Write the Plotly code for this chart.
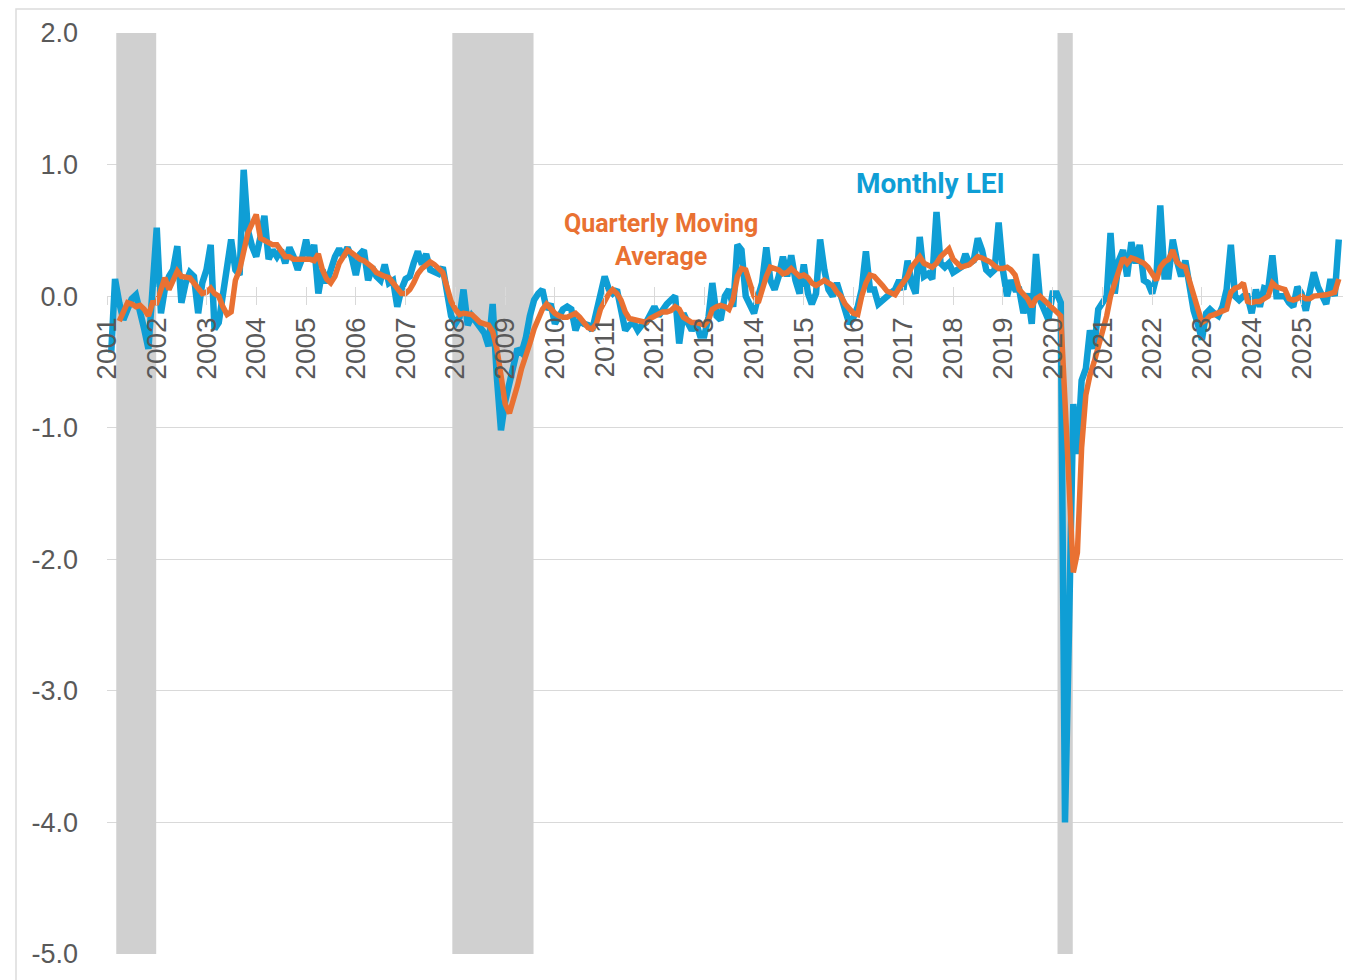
import pandas as pd
import plotly.graph_objects as go

# Monthly LEI change (%), Feb 2001 .. Oct 2025
lei_monthly = [
    -0.43, 0.13, -0.05, -0.18, -0.10, -0.02, 0.01, -0.10, -0.25, -0.40, 0.00,           # 2001 (Feb-Dec)
    0.52, -0.13, 0.05, 0.15, 0.20, 0.38, -0.05, 0.10, 0.18, 0.15, -0.13, 0.10,          # 2002
    0.20, 0.39, -0.25, -0.20, 0.00, 0.15, 0.43, 0.20, 0.16, 0.96, 0.50, 0.38,           # 2003
    0.30, 0.45, 0.61, 0.28, 0.35, 0.30, 0.35, 0.25, 0.37, 0.30, 0.20, 0.28,             # 2004
    0.43, 0.27, 0.39, 0.02, 0.20, 0.10, 0.22, 0.30, 0.36, 0.30, 0.37, 0.30,             # 2005
    0.16, 0.32, 0.35, 0.12, 0.22, 0.15, 0.12, 0.24, 0.10, 0.12, -0.08, 0.05,            # 2006
    0.13, 0.15, 0.25, 0.34, 0.24, 0.32, 0.20, 0.18, 0.17, 0.22, 0.00, -0.15,            # 2007
    -0.21, -0.16, 0.05, -0.22, -0.15, -0.20, -0.24, -0.28, -0.38, -0.06, -0.62, -1.02,  # 2008
    -0.80, -0.66, -0.54, -0.40, -0.43, -0.32, -0.15, -0.03, 0.02, 0.05, -0.10, -0.06,   # 2009
    -0.21, -0.15, -0.10, -0.08, -0.10, -0.26, -0.18, -0.21, -0.22, -0.26, -0.13, 0.00,  # 2010
    0.15, 0.05, 0.02, 0.05, -0.10, -0.26, -0.22, -0.20, -0.26, -0.22, -0.20, -0.13,     # 2011
    -0.08, -0.15, -0.10, -0.06, -0.03, 0.00, -0.36, -0.13, -0.20, -0.26, -0.20, -0.30,  # 2012
    -0.30, -0.16, 0.10, -0.15, -0.18, 0.00, 0.05, -0.08, 0.39, 0.35, 0.00, -0.06,       # 2013
    -0.13, 0.00, 0.10, 0.37, 0.12, 0.05, 0.15, 0.30, 0.15, 0.31, 0.12, 0.02,            # 2014
    0.24, 0.02, -0.06, 0.02, 0.43, 0.20, 0.05, 0.00, 0.10, 0.00, -0.10, -0.21,          # 2015
    -0.16, -0.08, 0.05, 0.34, 0.05, 0.05, -0.06, -0.03, 0.00, 0.02, 0.05, 0.12,         # 2016
    0.05, 0.27, 0.10, 0.02, 0.45, 0.15, 0.17, 0.13, 0.64, 0.25, 0.22, 0.25,             # 2017
    0.18, 0.20, 0.22, 0.32, 0.25, 0.27, 0.44, 0.35, 0.20, 0.17, 0.20, 0.56,             # 2018
    0.20, 0.00, 0.12, 0.05, 0.05, -0.13, 0.02, -0.21, 0.32, -0.03, -0.10, -0.18,        # 2019
    0.02, 0.02, -0.05, -4.00, -2.50, -0.82, -1.20, -0.64, -0.55, -0.26, -0.40, -0.10,   # 2020
    -0.05, 0.00, 0.48, 0.02, 0.27, 0.35, 0.15, 0.41, 0.25, 0.39, 0.12, 0.10,            # 2021
    0.02, 0.15, 0.69, 0.15, 0.15, 0.43, 0.27, 0.15, 0.27, 0.05, -0.11, -0.21,           # 2022
    -0.33, -0.13, -0.10, -0.13, -0.15, -0.08, 0.05, 0.39, 0.00, -0.03, 0.00, 0.00,      # 2023
    -0.13, 0.05, -0.08, 0.06, 0.05, 0.31, 0.00, 0.00, 0.00, -0.05, -0.08, 0.07,         # 2024
    0.02, -0.11, 0.05, 0.18, 0.07, 0.00, -0.06, 0.13, 0.00, 0.43,                       # 2025 (Jan-Oct)
]

# Quarterly (3-month) moving average, same months
lei_quarterly_ma = [
    None, None, -0.19, -0.12, -0.05, -0.06, -0.08, -0.07, -0.10, -0.15, -0.05,          # 2001
    -0.05, 0.05, 0.14, 0.05, 0.12, 0.19, 0.15, 0.14, 0.14, 0.10, 0.05, 0.02,            # 2002
    0.03, 0.06, 0.02, 0.00, -0.08, -0.14, -0.12, 0.12, 0.20, 0.35, 0.48, 0.55,          # 2003
    0.62, 0.44, 0.42, 0.40, 0.39, 0.39, 0.35, 0.30, 0.30, 0.28, 0.28, 0.28,             # 2004
    0.29, 0.28, 0.27, 0.32, 0.20, 0.13, 0.10, 0.15, 0.25, 0.30, 0.35, 0.33,             # 2005
    0.30, 0.28, 0.27, 0.25, 0.22, 0.18, 0.16, 0.15, 0.14, 0.10, 0.07, 0.02,             # 2006
    0.02, 0.05, 0.10, 0.17, 0.21, 0.23, 0.26, 0.24, 0.21, 0.18, 0.07, -0.04,            # 2007
    -0.10, -0.14, -0.13, -0.13, -0.14, -0.17, -0.20, -0.21, -0.22, -0.27, -0.40, -0.60, # 2008
    -0.82, -0.89, -0.80, -0.68, -0.55, -0.46, -0.36, -0.25, -0.17, -0.10, -0.06, -0.10, # 2009
    -0.13, -0.15, -0.16, -0.16, -0.15, -0.13, -0.16, -0.20, -0.24, -0.25, -0.21, -0.10, # 2010
    -0.03, 0.02, 0.05, 0.02, -0.03, -0.12, -0.17, -0.18, -0.19, -0.20, -0.20, -0.17,    # 2011
    -0.15, -0.13, -0.12, -0.12, -0.11, -0.08, -0.10, -0.16, -0.18, -0.20, -0.20, -0.21, # 2012
    -0.22, -0.18, -0.10, -0.08, -0.07, -0.08, -0.10, -0.02, 0.15, 0.21, 0.20, 0.10,     # 2013
    0.00, -0.05, 0.05, 0.15, 0.22, 0.21, 0.20, 0.17, 0.18, 0.21, 0.18, 0.15,            # 2014
    0.16, 0.14, 0.10, 0.08, 0.10, 0.12, 0.10, 0.08, 0.03, 0.00, -0.06, -0.10,           # 2015
    -0.13, -0.14, 0.00, 0.10, 0.16, 0.15, 0.12, 0.08, 0.04, 0.02, 0.01, 0.06,           # 2016
    0.10, 0.15, 0.22, 0.27, 0.30, 0.25, 0.23, 0.22, 0.25, 0.30, 0.33, 0.36,             # 2017
    0.28, 0.24, 0.22, 0.23, 0.24, 0.27, 0.30, 0.29, 0.28, 0.26, 0.23, 0.21,             # 2018
    0.21, 0.22, 0.20, 0.16, 0.05, 0.02, -0.02, -0.08, -0.02, 0.00, -0.03, -0.05,        # 2019
    -0.08, -0.12, -0.15, -0.80, -1.45, -2.10, -1.95, -1.15, -0.75, -0.60, -0.50, -0.38, # 2020
    -0.28, -0.15, 0.00, 0.10, 0.22, 0.29, 0.25, 0.29, 0.28, 0.27, 0.25, 0.22,           # 2021
    0.17, 0.12, 0.22, 0.26, 0.28, 0.35, 0.26, 0.23, 0.22, 0.12, 0.02, -0.10,            # 2022
    -0.20, -0.18, -0.15, -0.14, -0.13, -0.12, -0.10, 0.03, 0.06, 0.07, 0.10, -0.04,     # 2023
    -0.05, -0.04, -0.04, -0.02, 0.00, 0.10, 0.07, 0.06, 0.05, -0.02, -0.03, -0.02,      # 2024
    0.00, -0.02, -0.02, 0.00, 0.00, 0.00, 0.01, 0.02, 0.03, 0.13,                       # 2025
]

first_month = "2001-02-01"
year_labels = [str(y) for y in range(2001, 2026)]
y_tick_values = [-5, -4, -3, -2, -1, 0, 1, 2]
y_tick_labels = ["-5.0", "-4.0", "-3.0", "-2.0", "-1.0", "0.0", "1.0", "2.0"]
recessions = [("2001-03-10", "2001-12-28"), ("2007-12-10", "2009-07-28"), ("2020-02-06", "2020-05-28")]

months_m = pd.date_range(first_month, periods=len(lei_monthly), freq="MS")
months_q = pd.date_range(first_month, periods=len(lei_quarterly_ma), freq="MS")
tick_dates = [f"{y}-01-01" for y in year_labels]

BLUE = "#0F9ED5"
ORANGE = "#E97132"
GRID = "#D9D9D9"
TXT = "#595959"

fig = go.Figure()
fig.add_trace(go.Scatter(x=months_m, y=lei_monthly, mode="lines", name="Monthly LEI",
                         line=dict(color=BLUE, width=6.5), hoverinfo="skip"))
fig.add_trace(go.Scatter(x=months_q, y=lei_quarterly_ma, mode="lines", name="Quarterly Moving Average",
                         line=dict(color=ORANGE, width=5.5), connectgaps=False, hoverinfo="skip"))
# invisible trace carrying the second (tick-only) x axis
fig.add_trace(go.Scatter(x=[months_m[0]], y=[0], xaxis="x2", mode="markers",
                         marker=dict(opacity=0), showlegend=False, hoverinfo="skip"))

for x0, x1 in recessions:
    fig.add_shape(type="rect", xref="x", yref="y", x0=x0, x1=x1, y0=-5, y1=2,
                  fillcolor="#D0D0D0", line=dict(width=0), layer="between")

# page body has an 8px margin, so figure coords = screen coords - 8
OFF = 8
W, H = 1353, 980
L, T = 107 - OFF, 33 - OFF
R = W - (1343 - OFF)
B = H - (954 - OFF)
pw, ph = W - L - R, H - T - B


def px_x(sx):
    return (sx - OFF - L) / pw


def px_y(sy):
    return (H - B - (sy - OFF)) / ph


# outer chart border
fig.add_shape(type="rect", xref="paper", yref="paper",
              x0=px_x(16), x1=px_x(1370), y0=px_y(1000), y1=px_y(9),
              line=dict(color="#DCDCDC", width=1.5), fillcolor="rgba(0,0,0,0)", layer="below")

zero_pos = 5 / 7
xrange_ = ["2001-01-01", "2025-11-01"]
fig.update_layout(
    width=W, height=H,
    margin=dict(l=L, r=R, t=T, b=B),
    paper_bgcolor="white", plot_bgcolor="white",
    showlegend=False,
    xaxis=dict(type="date", range=xrange_, anchor="free", position=zero_pos,
               tickmode="array", tickvals=tick_dates, ticktext=year_labels,
               tickangle=-90, tickfont=dict(family="Liberation Sans, Arial", size=28, color=TXT),
               ticks="outside", ticklen=8, tickcolor=GRID, tickwidth=1,
               showgrid=False, showline=False, zeroline=False, automargin=False,
               ticklabelstandoff=1),
    xaxis2=dict(type="date", range=xrange_, overlaying="x", anchor="free", position=zero_pos,
                tickmode="array", tickvals=tick_dates, showticklabels=False,
                ticks="inside", ticklen=9, tickcolor=GRID, tickwidth=1,
                showgrid=False, showline=False, zeroline=False, automargin=False),
    yaxis=dict(range=[-5, 2], tickmode="array", tickvals=y_tick_values, ticktext=y_tick_labels,
               tickfont=dict(family="Liberation Sans, Arial", size=27, color=TXT),
               showgrid=True, gridcolor=GRID, gridwidth=1, zeroline=False, showline=False,
               ticks="", automargin=False, ticklabelstandoff=28),
)

fig.add_annotation(xref="paper", yref="paper", x=px_x(930), y=px_y(184),
                   text="<b>Monthly LEI</b>", showarrow=False, xanchor="center", yanchor="middle",
                   font=dict(family="Roboto", size=28, color=BLUE))
fig.add_annotation(xref="paper", yref="paper", x=px_x(661), y=px_y(240),
                   text="<b>Quarterly Moving<br>Average</b>", showarrow=False,
                   xanchor="center", yanchor="middle", align="center",
                   font=dict(family="Roboto", size=25, color=ORANGE))

fig.write_html("out.html")
